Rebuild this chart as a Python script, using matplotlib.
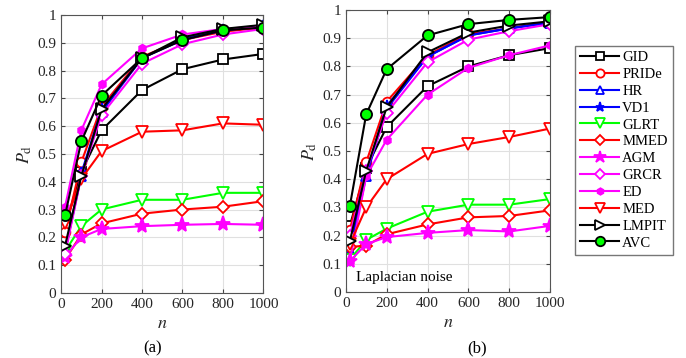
import matplotlib
matplotlib.use("Agg")
from matplotlib import pyplot as plt

plt.rcParams['font.family'] = ['Liberation Serif', 'DejaVu Serif']
plt.rcParams['mathtext.fontset'] = 'stix'

n = [20, 100, 200, 400, 600, 800, 1000]
names = ['GID', 'PRIDe', 'HR', 'VD1', 'GLRT', 'MMED', 'AGM', 'GRCR', 'ED', 'MED', 'LMPIT', 'AVC']

# panel (a)
pd_a = {
    'GID':   [0.24, 0.435, 0.585, 0.73, 0.805, 0.84, 0.86],
    'PRIDe': [0.22, 0.47, 0.67, 0.85, 0.91, 0.94, 0.955],
    'HR':    [0.15, 0.42, 0.65, 0.845, 0.91, 0.945, 0.96],
    'VD1':   [0.15, 0.43, 0.66, 0.845, 0.915, 0.945, 0.96],
    'GLRT':  [0.15, 0.24, 0.30, 0.335, 0.335, 0.36, 0.36],
    'MMED':  [0.12, 0.21, 0.25, 0.285, 0.30, 0.31, 0.33],
    'AGM':   [0.13, 0.20, 0.23, 0.24, 0.245, 0.248, 0.245],
    'GRCR':  [0.14, 0.42, 0.64, 0.825, 0.895, 0.93, 0.95],
    'ED':    [0.31, 0.585, 0.75, 0.88, 0.93, 0.95, 0.96],
    'MED':   [0.25, 0.41, 0.51, 0.58, 0.585, 0.61, 0.605],
    'LMPIT': [0.17, 0.42, 0.66, 0.845, 0.92, 0.95, 0.965],
    'AVC':   [0.28, 0.545, 0.71, 0.845, 0.91, 0.945, 0.955],
}

# panel (b), Laplacian noise
pd_b = {
    'GID':   [0.235, 0.44, 0.585, 0.73, 0.80, 0.84, 0.865],
    'PRIDe': [0.22, 0.46, 0.675, 0.84, 0.915, 0.935, 0.96],
    'HR':    [0.145, 0.41, 0.65, 0.835, 0.91, 0.935, 0.955],
    'VD1':   [0.15, 0.42, 0.66, 0.835, 0.91, 0.935, 0.955],
    'GLRT':  [0.115, 0.185, 0.225, 0.285, 0.31, 0.31, 0.33],
    'MMED':  [0.16, 0.165, 0.205, 0.24, 0.265, 0.27, 0.29],
    'AGM':   [0.11, 0.17, 0.195, 0.21, 0.22, 0.215, 0.235],
    'GRCR':  [0.20, 0.43, 0.635, 0.815, 0.895, 0.925, 0.95],
    'ED':    [0.11, 0.41, 0.54, 0.70, 0.795, 0.84, 0.875],
    'MED':   [0.17, 0.30, 0.40, 0.49, 0.525, 0.55, 0.58],
    'LMPIT': [0.18, 0.43, 0.655, 0.85, 0.92, 0.945, 0.96],
    'AVC':   [0.305, 0.63, 0.79, 0.91, 0.95, 0.965, 0.975],
}

MAG = '#ff00ff'
GRN = '#00ff00'
# color, marker, marker face, marker size
style = {
    'GID':   ('k', 's', 'w', 7),
    'PRIDe': ('r', 'o', 'w', 7),
    'HR':    ('b', '^', 'w', 7),
    'VD1':   ('b', '*', 'b', 8),
    'GLRT':  (GRN, 'v', 'w', 8),
    'MMED':  ('r', 'D', 'w', 6),
    'AGM':   (MAG, '*', MAG, 11),
    'GRCR':  (MAG, 'D', 'w', 6),
    'ED':    (MAG, 'h', MAG, 5.5),
    'MED':   ('r', 'v', 'w', 8),
    'LMPIT': ('k', '>', 'w', 8),
    'AVC':   ('k', 'o', GRN, 8),
}

fig = plt.figure(figsize=(6.86, 3.58), dpi=100)
ax_a = fig.add_axes([0.089, 0.182, 0.295, 0.776])
ax_b = fig.add_axes([0.504, 0.184, 0.298, 0.788])

for ax, data in [(ax_a, pd_a), (ax_b, pd_b)]:
    for name in names:
        c, m, fc, ms = style[name]
        ax.plot(n, data[name], color=c, marker=m, markerfacecolor=fc,
                markeredgecolor=c, markersize=ms, markeredgewidth=1.3,
                linewidth=1.5, label=name)
    ax.set_xlim(0, 1000)
    ax.set_ylim(0, 1)
    ax.set_xticks([0, 200, 400, 600, 800, 1000])
    ax.set_yticks([i / 10 for i in range(11)])
    ax.set_yticklabels(['0', '0.1', '0.2', '0.3', '0.4', '0.5', '0.6',
                        '0.7', '0.8', '0.9', '1'])
    ax.grid(True, color='#e0e0e0', linewidth=0.8)
    ax.tick_params(direction='in', labelsize=11, length=3, top=True, right=True,
                   colors='#444444', labelcolor='#262626')
    for s in ax.spines.values():
        s.set_color('#555555')
    ax.set_xlabel('$n$', fontsize=13, labelpad=3, color='#262626')
    ax.set_ylabel('$P_\\mathrm{d}$', fontsize=13, labelpad=2, color='#262626')

ax_b.text(50, 0.04, 'Laplacian noise', fontsize=11)
fig.text(0.223, 0.016, '(a)', ha='center', fontsize=12)
fig.text(0.695, 0.016, '(b)', ha='center', fontsize=12)

handles, labels = ax_b.get_legend_handles_labels()
fig.legend(handles, labels, loc='upper left', bbox_to_anchor=(0.838, 0.872),
           fontsize=10.5, frameon=True, fancybox=False, edgecolor='#555555',
           handlelength=2.7, handletextpad=0.2, labelspacing=0.25,
           borderpad=0.35, borderaxespad=0, markerscale=0.85)

plt.savefig('out.png', dpi=100)
